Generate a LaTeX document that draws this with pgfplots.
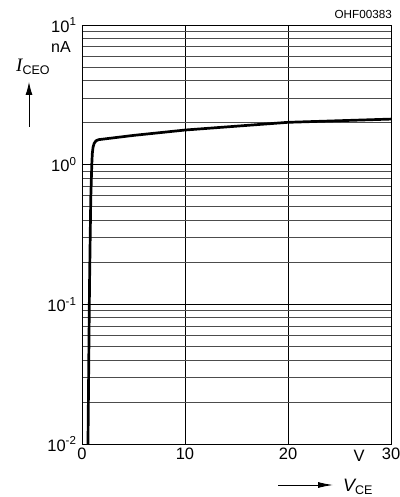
\documentclass[border=0pt]{standalone}
\usepackage{fontspec}
\setmainfont{Liberation Sans}
\newfontfamily\seriffont{Liberation Serif}
\usepackage{pgfplots}
\pgfplotsset{compat=1.18}
\usetikzlibrary{arrows.meta}
\begin{document}
\begin{tikzpicture}[x=1pt,y=1pt]
\useasboundingbox (-82,-53) rectangle (317,444);
\begin{axis}[
  at={(0,0)}, anchor=south west,
  scale only axis, width=309pt, height=419pt,
  xmin=0, xmax=30, ymin=0.01, ymax=10,
  ymode=log,
  xtick={0,10,20,30}, xticklabels={0,10,20,30},
  ytick={0.01,0.1,1,10},
  yticklabels={10\textsuperscript{-2},10\textsuperscript{-1},10\textsuperscript{0},10\textsuperscript{1}},
  minor ytick={0.02,0.03,0.04,0.05,0.06,0.07,0.08,0.09,0.2,0.3,0.4,0.5,0.6,0.7,0.8,0.9,2,3,4,5,6,7,8,9},
  grid=both,
  major grid style={black, line width=0.8pt},
  minor grid style={black!70, line width=0.8pt},
  axis line style={black, line width=0.8pt},
  tick style={draw=none},
  ticklabel style={font=\fontsize{16.5}{19}\selectfont},
  yticklabel style={xshift=-2pt},
  xticklabel style={yshift=0pt},
  /pgf/number format/assume math mode=true,
  clip=true,
]
\addplot[black, line width=2.7pt, line join=round] coordinates {
(0.58,0.01) (0.73,0.138) (0.85,0.569) (0.95,1.0) (1.0,1.2) (1.07,1.33) (1.18,1.42) (1.35,1.48) (1.6,1.51) (5,1.62) (10,1.77) (20,2.01) (30,2.12)
};
\end{axis}
% labels
\node[anchor=south east, font=\fontsize{11.7}{14}\selectfont, inner sep=0pt] at (310,425) {OHF00383};
\node[anchor=base, font=\fontsize{16.5}{19}\selectfont, inner sep=0pt] at (277,-17) {V};
\node[anchor=base west, font=\fontsize{16}{19}\selectfont, inner sep=0pt] at (-31,391) {nA};
\node[anchor=base west, inner sep=0pt] at (-66,372.5) {{\seriffont\itshape\fontsize{19}{22}\selectfont I}{\fontsize{12.5}{15}\selectfont\raisebox{-3pt}{CEO}}};
\draw[line width=0.9pt, -{Latex[length=13pt,width=7pt]}] (-53,317) -- (-53,362);
\draw[line width=0.9pt, -{Latex[length=15pt,width=6pt]}] (196,-41) -- (251,-41);
\node[anchor=base west, inner sep=0pt] at (261,-47) {{\itshape\fontsize{18}{21}\selectfont V}{\fontsize{12.5}{15}\selectfont\raisebox{-3pt}{CE}}};
\end{tikzpicture}
\end{document}
